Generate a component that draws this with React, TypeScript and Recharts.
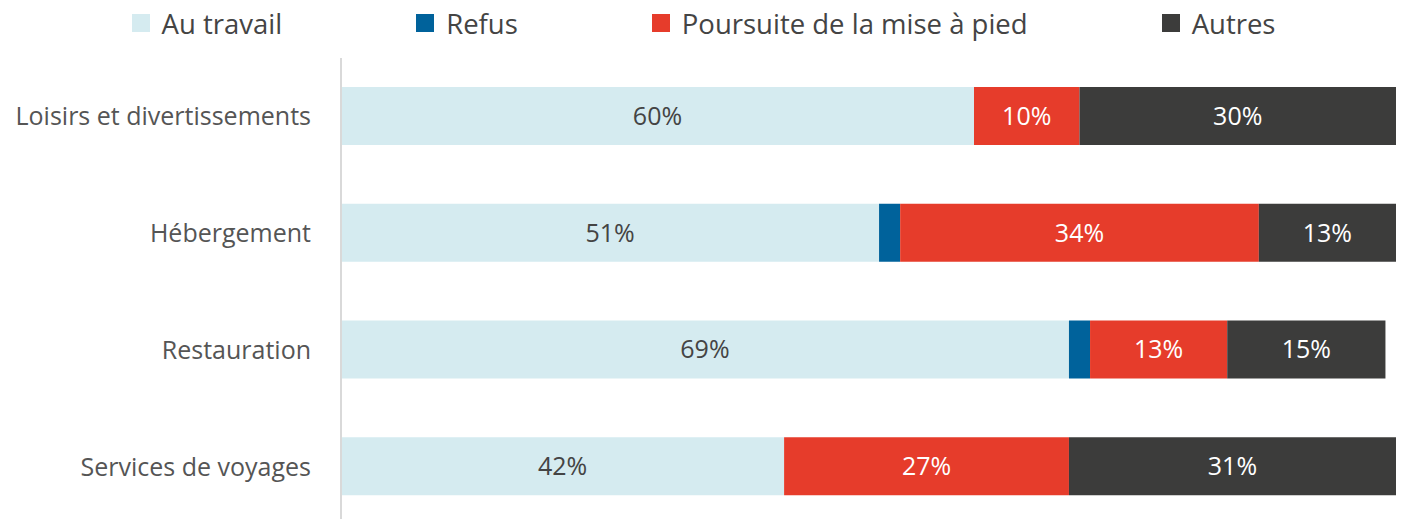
import React from "react";
import { Bar, BarChart, LabelList, XAxis, YAxis } from "recharts";

// Share of workers by outcome, per sector (%)
const sectors = [
  "Loisirs et divertissements",
  "Hébergement",
  "Restauration",
  "Services de voyages",
];
const auTravail = [60, 51, 69, 42];
const refus = [0, 2, 2, 0];
const poursuite = [10, 34, 13, 27];
const autres = [30, 13, 15, 31];

const seriesMeta = [
  { key: "auTravail", name: "Au travail", color: "#d5ebf0", label: "#444444" },
  { key: "refus", name: "Refus", color: "#00629b", label: null },
  { key: "poursuite", name: "Poursuite de la mise à pied", color: "#e63c2b", label: "#ffffff" },
  { key: "autres", name: "Autres", color: "#3c3c3b", label: "#ffffff" },
];

const data = sectors.map((s, i) => ({
  sector: s,
  auTravail: auTravail[i],
  refus: refus[i],
  poursuite: poursuite[i],
  autres: autres[i],
}));

const FONT = "'Open Sans', Lato, sans-serif";

// Legend sits above the plot, drawn as plain HTML
function TopLegend() {
  return (
    <div
      style={{
        position: "absolute",
        top: 0,
        left: 0,
        width: 1407,
        height: 46,
        display: "flex",
        alignItems: "center",
        justifyContent: "center",
        gap: 134,
        fontFamily: FONT,
        fontSize: 27.5,
        color: "#444444",
      }}
    >
      {seriesMeta.map((m) => (
        <div key={m.key} style={{ display: "flex", alignItems: "center", gap: 12 }}>
          <span style={{ display: "inline-block", width: 18, height: 18, background: m.color }} />
          <span>{m.name}</span>
        </div>
      ))}
    </div>
  );
}

const pct = (v: unknown) => {
  const n = Number(v);
  return Number.isFinite(n) && n > 0 ? `${n}%` : "";
};

export default function App() {
  return (
    <div
      style={{
        position: "fixed",
        left: 0,
        top: 0,
        width: 1407,
        height: 519,
        overflow: "hidden",
        background: "#ffffff",
        fontFamily: FONT,
      }}
    >
      <BarChart
        width={1407}
        height={525}
        data={data}
        layout="vertical"
        margin={{ top: 58, right: 11, bottom: 0, left: 0 }}
        barSize={58}
      >
        <XAxis type="number" domain={[0, 100]} hide />
        <YAxis
          type="category"
          dataKey="sector"
          width={341}
          tickLine={false}
          tickSize={0}
          tickMargin={30}
          axisLine={{ stroke: "#d9d9d9", strokeWidth: 2 }}
          tick={{ fontSize: 25, fill: "#555555", fontFamily: FONT }}
        />
        {seriesMeta.map((m) => (
          <Bar
            key={m.key}
            dataKey={m.key}
            name={m.name}
            stackId="a"
            fill={m.color}
            isAnimationActive={false}
          >
            {m.label ? (
              <LabelList
                dataKey={m.key}
                position="center"
                formatter={pct}
                fill={m.label}
                fontSize={25}
                fontFamily={FONT}
              />
            ) : null}
          </Bar>
        ))}
      </BarChart>
      <TopLegend />
    </div>
  );
}
